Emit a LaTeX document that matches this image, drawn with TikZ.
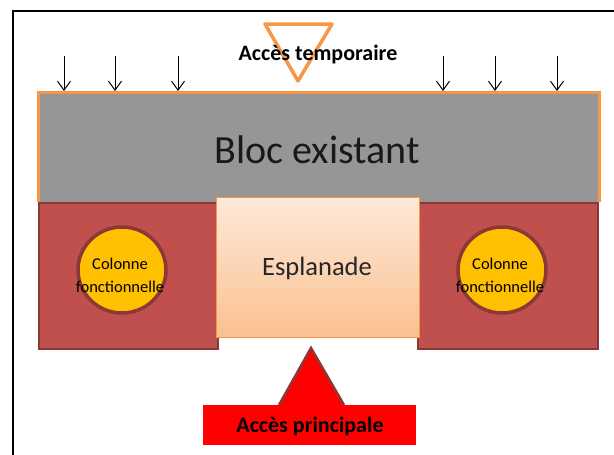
\documentclass[tikz,border=0pt]{standalone}
\usepackage{fontspec}
\setmainfont{Carlito}
\usetikzlibrary{arrows.meta,shapes.geometric}
\definecolor{blocgray}{HTML}{969696}
\definecolor{orangeb}{HTML}{F79646}
\definecolor{redfill}{HTML}{C0504D}
\definecolor{redline}{HTML}{8C3836}
\definecolor{colfill}{HTML}{FFC000}
\definecolor{esptop}{HTML}{FDEADA}
\definecolor{espbot}{HTML}{FAC090}
\tikzset{
  wing/.style={fill=redfill, draw=redline, line width=2.5pt},
  colonne/.style={ellipse, fill=colfill, draw=redline, line width=3.5pt, minimum width=88pt, minimum height=86pt, inner sep=0pt, align=center, font=\fontsize{16.5}{20}\selectfont},
  loadarrow/.style={-{Straight Barb[length=9pt,width=13pt]}, line width=1pt, black},
  lbl/.style={font=\bfseries\fontsize{22}{26}\selectfont}
}
\begin{document}
\begin{tikzpicture}[x=1pt,y=-1pt]
\useasboundingbox (0,0) rectangle (614,455);
\fill[white] (0,0) rectangle (614,455);
% frame
\draw[line width=1.5pt, black] (13,455) coordinate (fb) -- (13,11) coordinate (fa) -- (614,11) coordinate (fc);
% bloc existant
\node[draw=none, fill=blocgray, minimum width=561pt, minimum height=110pt, inner sep=0pt, anchor=north west] (bloc) at (38,92) {};
\draw[orangeb, line width=3pt] (bloc.south west) -- (bloc.north west) -- (bloc.north east) -- (bloc.south east);
\node[font=\fontsize{40}{46}\selectfont, text=black!90] (bloctxt) at (317,150) {Bloc existant};
% wings
\draw[wing] (39,203) rectangle (218,349);
\draw[wing] (418,203) rectangle (598,349);
% esplanade
\shade[top color=esptop, bottom color=espbot] (216,197) rectangle (419,337);
\node[draw=orangeb, line width=1.2pt, minimum width=203pt, minimum height=140pt, inner sep=0pt, anchor=north west, font=\fontsize{26.5}{30}\selectfont, text=black!85] (esp) at (216,197) {};
\node[font=\fontsize{26.5}{30}\selectfont, text=black!85] (esptxt) at (317,268) {Esplanade};
% colonnes
\node[colonne] (c1) at (122,270) {};
\node[colonne] (c2) at (502,270) {};
\node[align=center, font=\fontsize{16.5}{23}\selectfont] (c1t) at (120,275) {Colonne\\fonctionnelle};
\node[align=center, font=\fontsize{16.5}{23}\selectfont] (c2t) at (500,275) {Colonne\\fonctionnelle};
% temporary access triangle
\coordinate (t1) at (265,24);
\coordinate (t2) at (332,24);
\coordinate (t3) at (298,81);
\draw[orangeb, line width=3.5pt, line join=round] (t1) -- (t2) -- (t3) -- cycle;
\node[lbl] (temp) at (318,55) {Accès temporaire};
% load arrows
\foreach \x/\n in {64/a1,115/a2,178/a3,443/a4,495/a5,557/a6}{
  \coordinate (\n s) at (\x,56);
  \coordinate (\n e) at (\x,91);
  \draw[loadarrow] (\n s) -- (\n e);
}
% main access
\coordinate (p1) at (311,348);
\coordinate (p2) at (279,405);
\coordinate (p3) at (344,405);
\fill[red] (p2) -- (p1) -- (p3) -- cycle;
\draw[redline, line width=2.5pt] (p2) -- (p1) -- (p3);
\node[fill=red, minimum width=213pt, minimum height=40pt, inner sep=0pt, anchor=north west] (princ) at (203,405) {};
\node[lbl] (princtxt) at (310,427) {Accès principale};
\end{tikzpicture}
\end{document}
